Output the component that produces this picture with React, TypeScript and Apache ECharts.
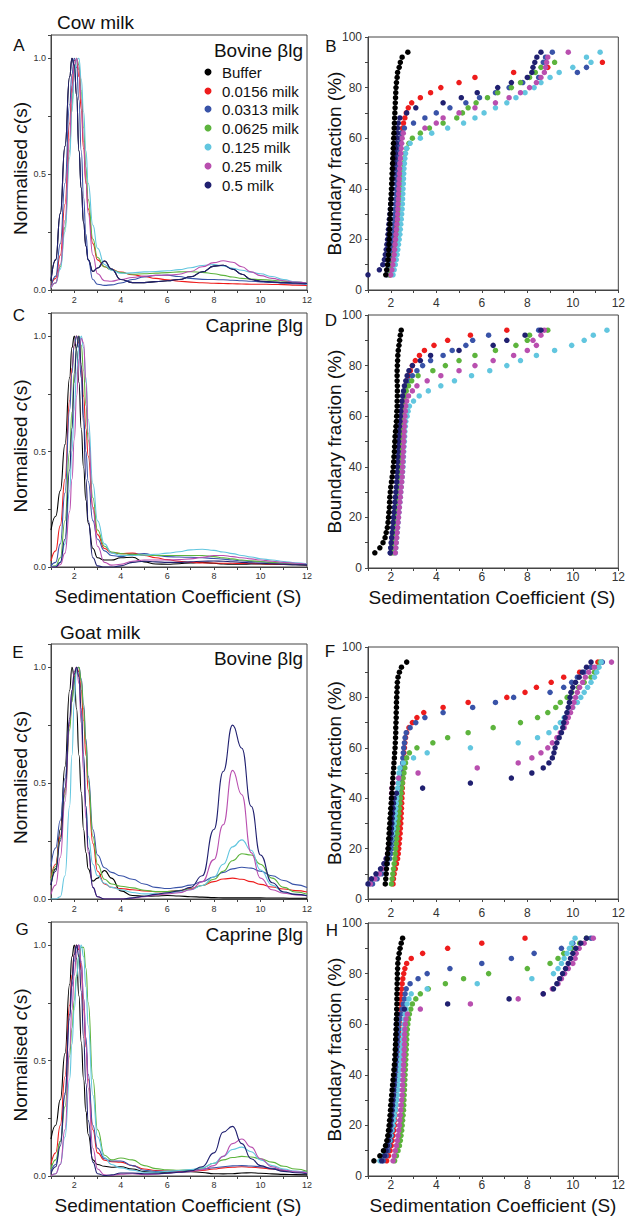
import React, { useEffect, useRef } from "react";
import * as echarts from "echarts";

// ---------- shared categories ----------
const NAMES = ["Buffer", "0.0156 milk", "0.0313 milk", "0.0625 milk", "0.125 milk", "0.25 milk", "0.5 milk"];
const COLORS = ["#000000", "#ee1c1c", "#3953a8", "#5db43d", "#62c6df", "#b94faf", "#202070"];
const X_TICKS = [2, 4, 6, 8, 10, 12];
const C_TICKS = [0, 0.5, 1.0];

// sedimentation coefficient grid of the c(s) curves
const S_GRID = [1, 1.2, 1.4, 1.6, 1.8, 1.9, 2.0, 2.1, 2.2, 2.3, 2.4, 2.5, 2.6, 2.8, 3.0, 3.3, 3.6, 4.0, 4.5, 5.0, 5.5, 6.0, 6.5, 7.0, 7.5, 8.0, 8.4, 8.8, 9.2, 9.6, 10.0, 10.5, 11.0, 11.5, 12.0];
// boundary fractions (%) of the van Holde-Weischet plots
const FRAC = [6, 8, 10, 12, 14, 16, 18, 20, 22, 24, 26, 28, 30, 32, 34, 36, 38, 40, 42, 44, 46, 48, 50, 52, 54, 56, 58, 60, 62, 64, 66, 68, 70, 72, 74, 76, 78, 80, 82, 84, 86, 88, 90, 92, 94];

// ---------- A: cow milk, bovine blg, normalised c(s) ----------
const A_BUFFER = [0.04,0.13,0.33,0.62,0.92,1.0,0.97,0.84,0.6,0.44,0.29,0.19,0.13,0.08,0.095,0.125,0.09,0.045,0.032,0.032,0.036,0.04,0.045,0.057,0.078,0.103,0.107,0.09,0.068,0.045,0.038,0.034,0.032,0.03,0.028];
const A_0156 = [0.02,0.05,0.15,0.37,0.72,0.88,0.99,0.99,0.92,0.78,0.61,0.46,0.35,0.2,0.13,0.1,0.088,0.077,0.066,0.058,0.05,0.044,0.038,0.034,0.031,0.029,0.028,0.027,0.026,0.025,0.025,0.024,0.023,0.021,0.02];
const A_0313 = [0.01,0.06,0.2,0.46,0.8,0.93,1.0,0.96,0.82,0.6,0.4,0.24,0.13,0.045,0.025,0.02,0.022,0.03,0.045,0.056,0.063,0.064,0.058,0.05,0.046,0.045,0.044,0.042,0.04,0.038,0.035,0.033,0.03,0.027,0.024];
const A_0625 = [0.01,0.03,0.1,0.27,0.6,0.8,0.94,1.0,0.97,0.86,0.7,0.53,0.39,0.22,0.14,0.1,0.088,0.075,0.068,0.07,0.073,0.075,0.078,0.079,0.076,0.07,0.063,0.056,0.05,0.047,0.045,0.042,0.038,0.034,0.03];
const A_125 = [0.01,0.03,0.09,0.25,0.57,0.77,0.92,0.99,1.0,0.91,0.77,0.6,0.46,0.28,0.18,0.11,0.085,0.072,0.074,0.078,0.08,0.083,0.088,0.096,0.106,0.11,0.104,0.094,0.085,0.077,0.07,0.058,0.045,0.035,0.025];
const A_25 = [0.01,0.03,0.11,0.3,0.65,0.85,0.97,1.0,0.95,0.82,0.64,0.47,0.33,0.15,0.07,0.04,0.038,0.045,0.054,0.06,0.063,0.064,0.068,0.08,0.1,0.118,0.126,0.12,0.1,0.078,0.062,0.05,0.04,0.034,0.03];
const A_5 = [0.04,0.13,0.33,0.62,0.92,1.0,0.97,0.84,0.6,0.44,0.29,0.19,0.13,0.08,0.095,0.125,0.09,0.045,0.032,0.032,0.036,0.04,0.045,0.057,0.078,0.103,0.107,0.09,0.068,0.045,0.038,0.034,0.032,0.03,0.028];

// ---------- C: cow milk, caprine blg ----------
const C_BUFFER = [0.16,0.22,0.33,0.53,0.82,0.95,1.0,0.94,0.8,0.6,0.43,0.29,0.19,0.08,0.04,0.03,0.03,0.04,0.042,0.022,0.013,0.012,0.014,0.018,0.02,0.016,0.013,0.012,0.012,0.013,0.013,0.012,0.011,0.01,0.008];
const C_0156 = [0.025,0.07,0.18,0.38,0.72,0.86,0.96,1.0,0.97,0.87,0.74,0.6,0.48,0.26,0.14,0.08,0.062,0.058,0.06,0.05,0.04,0.032,0.025,0.02,0.018,0.017,0.016,0.016,0.015,0.015,0.014,0.013,0.012,0.011,0.01];
const C_0313 = [0.005,0.02,0.1,0.32,0.68,0.84,0.96,1.0,0.95,0.82,0.65,0.5,0.37,0.2,0.12,0.07,0.05,0.045,0.055,0.058,0.05,0.045,0.043,0.042,0.04,0.037,0.034,0.03,0.027,0.024,0.022,0.019,0.016,0.013,0.01];
const C_0625 = [0,0.005,0.04,0.2,0.5,0.67,0.84,0.95,1.0,0.96,0.85,0.7,0.55,0.3,0.16,0.09,0.065,0.058,0.055,0.052,0.05,0.05,0.05,0.05,0.05,0.045,0.04,0.035,0.03,0.027,0.024,0.02,0.017,0.014,0.012];
const C_125 = [0,0.003,0.02,0.1,0.33,0.5,0.68,0.84,0.95,1.0,0.95,0.82,0.64,0.36,0.2,0.1,0.06,0.05,0.05,0.052,0.055,0.06,0.066,0.074,0.077,0.072,0.065,0.058,0.05,0.043,0.036,0.03,0.024,0.018,0.014];
const C_25 = [0,0,0.01,0.06,0.24,0.38,0.55,0.74,0.9,0.99,0.97,0.8,0.58,0.25,0.09,0.02,0.008,0.012,0.025,0.03,0.03,0.03,0.032,0.035,0.042,0.05,0.05,0.045,0.04,0.035,0.03,0.025,0.02,0.016,0.012];
const C_5 = [0,0,0.02,0.12,0.42,0.6,0.8,0.95,1.0,0.88,0.62,0.38,0.2,0.04,0.005,0,0,0.005,0.02,0.025,0.022,0.02,0.02,0.022,0.025,0.026,0.025,0.023,0.02,0.018,0.016,0.014,0.012,0.01,0.009];

// ---------- E: goat milk, bovine blg ----------
const E_BUFFER = [0.06,0.13,0.3,0.57,0.9,1.0,0.96,0.82,0.62,0.46,0.3,0.2,0.13,0.077,0.09,0.123,0.09,0.035,0.015,0.012,0.013,0.015,0.013,0.01,0.008,0.006,0.005,0.005,0.005,0.005,0.005,0.004,0.004,0.003,0.003];
const E_0156 = [0.09,0.15,0.27,0.47,0.75,0.87,0.96,1.0,0.98,0.9,0.77,0.62,0.47,0.24,0.12,0.065,0.05,0.045,0.04,0.035,0.032,0.032,0.036,0.045,0.058,0.075,0.086,0.09,0.085,0.075,0.063,0.052,0.043,0.036,0.03];
const E_0313 = [0.14,0.22,0.34,0.52,0.76,0.86,0.94,0.99,1.0,0.95,0.84,0.69,0.53,0.3,0.19,0.135,0.115,0.1,0.085,0.065,0.05,0.045,0.05,0.06,0.075,0.095,0.115,0.13,0.137,0.133,0.12,0.1,0.08,0.062,0.05];
const E_0625 = [0.08,0.14,0.26,0.45,0.73,0.85,0.94,0.99,1.0,0.94,0.82,0.67,0.51,0.27,0.15,0.085,0.065,0.055,0.048,0.038,0.032,0.032,0.036,0.043,0.058,0.085,0.12,0.165,0.195,0.19,0.15,0.09,0.05,0.03,0.02];
const E_125 = [0,0,0.01,0.1,0.4,0.62,0.85,1.0,0.95,0.8,0.58,0.4,0.27,0.15,0.1,0.068,0.05,0.04,0.028,0.022,0.022,0.025,0.03,0.04,0.058,0.095,0.15,0.225,0.255,0.21,0.125,0.06,0.03,0.02,0.015];
const E_25 = [0.02,0.06,0.18,0.42,0.77,0.9,0.98,1.0,0.93,0.76,0.55,0.35,0.2,0.05,0.01,0,0,0,0.003,0.01,0.018,0.022,0.027,0.04,0.075,0.17,0.32,0.555,0.45,0.2,0.09,0.04,0.025,0.018,0.014];
const E_5 = [0.06,0.12,0.25,0.48,0.78,0.9,0.97,1.0,0.96,0.82,0.62,0.4,0.22,0.05,0.01,0,0,0,0.005,0.012,0.02,0.027,0.035,0.05,0.1,0.3,0.55,0.75,0.65,0.4,0.19,0.07,0.03,0.02,0.014];

// ---------- G: goat milk, caprine blg ----------
const G_BUFFER = [0.16,0.22,0.33,0.53,0.83,0.95,1.0,0.94,0.78,0.58,0.42,0.28,0.18,0.07,0.05,0.042,0.038,0.04,0.03,0.019,0.015,0.014,0.017,0.019,0.015,0.01,0.009,0.01,0.013,0.014,0.012,0.009,0.007,0.006,0.005];
const G_0156 = [0.05,0.1,0.22,0.43,0.74,0.87,0.96,1.0,0.98,0.89,0.72,0.56,0.42,0.2,0.1,0.068,0.062,0.06,0.045,0.03,0.024,0.021,0.02,0.021,0.024,0.03,0.035,0.038,0.04,0.038,0.035,0.03,0.024,0.019,0.015];
const G_0313 = [0.02,0.05,0.15,0.36,0.68,0.82,0.93,0.99,1.0,0.92,0.77,0.6,0.44,0.22,0.12,0.075,0.065,0.065,0.045,0.025,0.02,0.02,0.022,0.025,0.03,0.036,0.04,0.044,0.045,0.043,0.04,0.033,0.026,0.02,0.015];
const G_0625 = [0.03,0.07,0.15,0.3,0.52,0.64,0.76,0.87,0.95,0.99,0.99,0.9,0.75,0.42,0.2,0.09,0.07,0.078,0.07,0.045,0.032,0.027,0.025,0.026,0.035,0.055,0.07,0.08,0.085,0.082,0.075,0.06,0.042,0.03,0.02];
const G_125 = [0,0.01,0.05,0.17,0.42,0.57,0.72,0.86,0.96,1.0,0.95,0.82,0.65,0.35,0.17,0.08,0.05,0.035,0.025,0.016,0.016,0.02,0.024,0.028,0.036,0.055,0.085,0.115,0.125,0.105,0.07,0.045,0.03,0.02,0.015];
const G_25 = [0,0.01,0.05,0.2,0.55,0.72,0.87,0.97,1.0,0.93,0.77,0.57,0.38,0.12,0.03,0.005,0.002,0.008,0.01,0.006,0.008,0.012,0.016,0.02,0.027,0.045,0.085,0.14,0.16,0.125,0.075,0.04,0.025,0.018,0.014];
const G_5 = [0.01,0.04,0.13,0.35,0.7,0.85,0.96,1.0,0.95,0.8,0.6,0.4,0.24,0.06,0.01,0.002,0.005,0.013,0.013,0.01,0.01,0.012,0.016,0.022,0.04,0.1,0.19,0.215,0.14,0.075,0.045,0.03,0.02,0.014,0.01];

// ---------- B: cow milk, bovine blg, sedimentation coefficient at each boundary fraction ----------
const B_BUFFER = [1.78,1.82,1.86,1.88,1.9,1.91,1.92,1.93,1.94,1.95,1.96,1.97,1.98,1.99,2.0,2.01,2.02,2.03,2.04,2.05,2.06,2.07,2.08,2.09,2.1,2.11,2.12,2.13,2.14,2.15,2.16,2.17,2.18,2.19,2.2,2.21,2.22,2.23,2.25,2.28,2.3,2.37,2.42,2.5,2.75];
const B_0156 = [1.98,2.02,2.05,2.08,2.1,2.12,2.14,2.16,2.18,2.2,2.22,2.24,2.26,2.28,2.3,2.31,2.32,2.33,2.34,2.35,2.36,2.37,2.38,2.39,2.4,2.41,2.42,2.44,2.47,2.51,2.56,2.62,2.68,2.77,2.92,3.3,3.75,4.2,5.0,5.7,7.4,8.9,11.3];
const B_0313 = [1.85,1.9,1.94,1.97,2.0,2.02,2.04,2.06,2.08,2.1,2.12,2.14,2.16,2.18,2.2,2.22,2.23,2.24,2.25,2.26,2.27,2.28,2.29,2.3,2.32,2.34,2.36,2.39,2.45,2.6,3.0,3.5,4.0,4.6,5.3,5.9,6.6,7.2,7.8,8.5,10.2,10.6,8.7,8.8,9.1];
const B_0625 = [1.95,2.0,2.05,2.1,2.14,2.18,2.21,2.24,2.27,2.3,2.32,2.34,2.36,2.38,2.4,2.42,2.44,2.46,2.48,2.5,2.52,2.54,2.56,2.59,2.63,2.7,2.8,2.95,3.3,3.7,4.3,4.9,5.15,5.4,5.75,6.25,6.7,7.3,7.7,8.1,8.35,8.6,9.2];
const B_125 = [2.1,2.15,2.2,2.24,2.28,2.31,2.34,2.37,2.4,2.42,2.44,2.46,2.48,2.5,2.51,2.52,2.53,2.54,2.55,2.56,2.57,2.58,2.6,2.62,2.65,2.7,2.85,3.3,3.8,4.5,5.2,5.7,6.1,6.6,7.1,7.5,7.9,8.3,8.6,9.0,9.4,10.0,10.8,10.6,11.2];
const B_25 = [2.0,2.05,2.09,2.12,2.15,2.17,2.19,2.21,2.23,2.25,2.27,2.29,2.3,2.31,2.32,2.33,2.34,2.35,2.36,2.37,2.38,2.39,2.4,2.42,2.44,2.46,2.48,2.5,2.55,3.5,4.0,4.3,5.0,5.7,6.6,7.2,7.7,8.1,8.4,8.6,8.75,8.8,8.85,8.9,9.8];
const B_5 = [1.0,1.5,1.65,1.72,1.76,1.8,1.83,1.86,1.88,1.9,1.92,1.94,1.96,1.98,2.0,2.02,2.04,2.06,2.08,2.1,2.12,2.14,2.16,2.18,2.2,2.22,2.24,2.26,2.28,2.3,2.33,2.4,2.7,3.1,4.3,5.1,5.8,6.7,7.3,8.0,8.2,8.25,8.33,8.42,8.6];

// ---------- D: cow milk, caprine blg ----------
const D_BUFFER = [1.3,1.52,1.66,1.75,1.8,1.85,1.88,1.9,1.92,1.94,1.95,1.96,1.98,2.0,2.03,2.06,2.09,2.11,2.13,2.14,2.16,2.17,2.18,2.19,2.21,2.23,2.25,2.26,2.27,2.28,2.28,2.29,2.29,2.29,2.28,2.28,2.28,2.29,2.3,2.31,2.33,2.36,2.39,2.42,2.46];
const D_0156 = [2.0,2.02,2.05,2.07,2.09,2.11,2.13,2.15,2.17,2.19,2.21,2.23,2.25,2.27,2.28,2.3,2.31,2.33,2.34,2.36,2.37,2.39,2.4,2.42,2.43,2.45,2.46,2.48,2.5,2.53,2.56,2.6,2.64,2.68,2.73,2.78,2.86,2.95,3.08,3.26,3.48,3.9,4.5,5.5,7.1];
const D_0313 = [1.98,2.0,2.03,2.06,2.09,2.11,2.13,2.15,2.17,2.19,2.21,2.23,2.25,2.27,2.28,2.29,2.3,2.31,2.32,2.33,2.34,2.35,2.36,2.37,2.38,2.4,2.42,2.45,2.47,2.5,2.53,2.57,2.62,2.7,2.8,2.95,3.15,3.4,3.75,4.3,4.7,5.3,5.6,6.3,8.5];
const D_0625 = [2.1,2.12,2.14,2.16,2.18,2.2,2.22,2.24,2.26,2.28,2.3,2.32,2.34,2.36,2.38,2.4,2.42,2.44,2.45,2.46,2.47,2.48,2.5,2.51,2.52,2.54,2.56,2.58,2.6,2.62,2.64,2.66,2.68,2.78,2.92,3.2,3.85,4.4,5.0,5.7,6.6,7.5,8.0,8.1,8.9];
const D_125 = [2.2,2.22,2.24,2.26,2.28,2.3,2.32,2.34,2.36,2.38,2.4,2.42,2.44,2.46,2.48,2.5,2.52,2.54,2.55,2.56,2.57,2.58,2.6,2.61,2.62,2.64,2.66,2.72,2.76,2.82,3.0,3.25,3.65,4.2,4.8,5.55,6.35,7.1,7.7,8.4,9.2,9.95,10.5,10.9,11.5];
const D_25 = [2.2,2.22,2.24,2.26,2.28,2.3,2.32,2.34,2.36,2.38,2.4,2.42,2.44,2.46,2.48,2.5,2.51,2.52,2.53,2.54,2.55,2.56,2.57,2.58,2.59,2.6,2.61,2.62,2.64,2.66,2.7,2.78,2.95,3.15,3.6,4.2,5.0,5.7,6.5,7.4,8.0,8.4,8.25,8.6,8.75];
const D_5 = [1.98,2.0,2.02,2.04,2.06,2.08,2.1,2.12,2.14,2.16,2.18,2.2,2.22,2.24,2.26,2.27,2.28,2.29,2.3,2.31,2.32,2.33,2.34,2.35,2.36,2.38,2.4,2.42,2.44,2.46,2.49,2.52,2.56,2.6,2.66,2.72,2.8,2.95,3.3,3.75,5.0,6.5,7.1,7.9,8.6];

// ---------- F: goat milk, bovine blg ----------
const F_BUFFER = [1.76,1.78,1.8,1.81,1.83,1.85,1.86,1.88,1.9,1.91,1.93,1.94,1.96,1.97,1.99,2.0,2.02,2.03,2.05,2.06,2.08,2.09,2.11,2.13,2.14,2.16,2.17,2.19,2.2,2.21,2.22,2.22,2.23,2.24,2.24,2.25,2.25,2.26,2.27,2.28,2.29,2.32,2.38,2.47,2.7];
const F_0156 = [2.1,2.12,2.15,2.2,2.25,2.3,2.33,2.35,2.37,2.39,2.41,2.42,2.44,2.45,2.46,2.47,2.48,2.49,2.5,2.51,2.52,2.53,2.54,2.55,2.56,2.57,2.58,2.6,2.62,2.65,2.7,2.8,2.95,3.15,3.45,4.3,5.4,7.1,7.9,8.4,9.05,9.6,10.3,10.8,11.1];
const F_0313 = [1.2,1.4,1.6,1.75,1.85,1.95,2.0,2.05,2.1,2.15,2.2,2.23,2.26,2.29,2.32,2.35,2.38,2.4,2.42,2.44,2.46,2.48,2.5,2.51,2.52,2.53,2.55,2.57,2.6,2.63,2.68,2.85,3.1,3.5,4.3,5.6,6.6,7.4,9.0,9.6,9.95,10.2,10.5,10.8,11.3];
const F_0625 = [2.03,2.06,2.09,2.12,2.15,2.18,2.2,2.22,2.24,2.26,2.28,2.3,2.32,2.34,2.36,2.38,2.4,2.42,2.45,2.48,2.51,2.54,2.58,2.62,2.65,2.7,2.82,3.15,3.85,4.5,5.4,6.5,7.7,8.45,8.9,9.25,9.45,9.75,9.95,10.25,10.5,10.8,10.95,11.1,11.2];
const F_125 = [1.05,1.3,1.5,1.65,1.75,1.85,1.9,1.95,2.0,2.04,2.08,2.12,2.15,2.18,2.2,2.22,2.24,2.26,2.28,2.3,2.32,2.34,2.36,2.4,2.55,3.0,3.6,5.5,7.6,8.45,8.95,9.25,9.45,9.62,9.85,10.0,10.2,10.35,10.5,10.65,10.8,10.95,11.05,11.15,11.25];
const F_25 = [1.1,1.3,1.5,1.62,1.72,1.8,1.86,1.9,1.93,1.96,1.98,2.0,2.01,2.02,2.03,2.03,2.04,2.04,2.04,2.05,2.1,2.35,3.2,5.8,7.6,8.2,8.6,8.9,9.1,9.3,9.45,9.62,9.72,9.8,9.9,9.98,10.05,10.12,10.2,10.3,10.43,10.55,10.7,10.95,11.7];
const F_5 = [1.0,1.15,1.35,1.55,1.7,1.8,1.88,1.93,1.97,2.0,2.02,2.03,2.05,2.06,2.08,2.1,2.12,2.15,2.25,3.4,5.5,7.3,8.2,8.7,8.95,9.1,9.17,9.22,9.3,9.4,9.5,9.56,9.6,9.66,9.74,9.8,9.85,9.88,9.92,10.0,10.12,10.28,10.42,10.6,10.8];

// ---------- H: goat milk, caprine blg ----------
const H_BUFFER = [1.26,1.52,1.68,1.77,1.83,1.87,1.9,1.93,1.95,1.97,1.99,2.0,2.02,2.04,2.06,2.08,2.1,2.12,2.14,2.16,2.18,2.19,2.2,2.21,2.22,2.23,2.24,2.25,2.25,2.26,2.26,2.27,2.27,2.27,2.28,2.28,2.29,2.29,2.3,2.31,2.33,2.37,2.41,2.46,2.52];
const H_0156 = [1.82,1.9,1.97,2.02,2.06,2.1,2.13,2.16,2.18,2.2,2.22,2.24,2.25,2.26,2.27,2.28,2.29,2.3,2.31,2.32,2.33,2.34,2.35,2.36,2.37,2.38,2.39,2.4,2.41,2.42,2.43,2.44,2.45,2.46,2.48,2.5,2.53,2.57,2.62,2.7,2.9,3.4,4.5,6.0,7.9];
const H_0313 = [1.67,1.8,1.88,1.94,1.99,2.03,2.06,2.09,2.12,2.14,2.16,2.18,2.2,2.22,2.23,2.24,2.25,2.26,2.27,2.28,2.29,2.3,2.31,2.32,2.33,2.34,2.35,2.35,2.4,2.45,2.5,2.55,2.6,2.63,2.68,2.85,3.2,3.6,4.6,6.0,7.3,8.3,9.5,10.0,10.8];
const H_0625 = [2.17,2.25,2.32,2.38,2.42,2.45,2.48,2.5,2.52,2.54,2.56,2.57,2.58,2.59,2.6,2.61,2.62,2.63,2.64,2.65,2.66,2.67,2.68,2.69,2.7,2.71,2.73,2.75,2.78,2.82,2.88,2.95,3.1,3.3,3.65,4.4,5.2,6.3,8.0,9.0,9.35,9.6,9.95,10.3,10.6];
const H_125 = [1.52,1.65,1.78,1.88,1.95,2.0,2.05,2.1,2.14,2.18,2.21,2.24,2.27,2.3,2.32,2.34,2.36,2.38,2.4,2.42,2.44,2.46,2.48,2.5,2.52,2.54,2.56,2.58,2.6,2.63,2.67,2.72,2.8,2.9,3.6,5.8,8.2,9.15,9.35,9.5,9.62,9.75,9.85,9.95,10.1];
const H_25 = [2.1,2.15,2.2,2.25,2.29,2.32,2.35,2.38,2.4,2.42,2.44,2.46,2.48,2.5,2.51,2.52,2.53,2.54,2.55,2.56,2.57,2.58,2.59,2.6,2.6,2.61,2.62,2.64,2.67,2.73,3.3,5.5,7.6,8.7,9.1,9.35,9.5,9.64,9.8,10.0,10.1,10.15,10.28,10.5,10.9];
const H_5 = [1.6,1.72,1.8,1.86,1.9,1.94,1.97,2.0,2.02,2.04,2.06,2.08,2.1,2.12,2.13,2.15,2.16,2.17,2.18,2.19,2.2,2.21,2.22,2.22,2.23,2.23,2.24,2.24,2.25,2.3,2.6,4.5,7.2,8.7,9.15,9.3,9.42,9.55,9.68,9.8,9.9,10.0,10.13,10.35,10.6];

const LINE_SETS = [
  [A_BUFFER, A_0156, A_0313, A_0625, A_125, A_25, A_5],
  [C_BUFFER, C_0156, C_0313, C_0625, C_125, C_25, C_5],
  [E_BUFFER, E_0156, E_0313, E_0625, E_125, E_25, E_5],
  [G_BUFFER, G_0156, G_0313, G_0625, G_125, G_25, G_5],
];
const DOT_SETS = [
  [B_BUFFER, B_0156, B_0313, B_0625, B_125, B_25, B_5],
  [D_BUFFER, D_0156, D_0313, D_0625, D_125, D_25, D_5],
  [F_BUFFER, F_0156, F_0313, F_0625, F_125, F_25, F_5],
  [H_BUFFER, H_0156, H_0313, H_0625, H_125, H_25, H_5],
];

const FONT = "'Liberation Sans', Arial, Helvetica, sans-serif";

const GRIDS = [
  { left: 51, top: 35, width: 256, height: 255 },
  { left: 368, top: 37, width: 253, height: 253 },
  { left: 51, top: 313, width: 256, height: 254 },
  { left: 368, top: 315, width: 253, height: 253 },
  { left: 51, top: 644, width: 256, height: 255 },
  { left: 368, top: 647, width: 253, height: 252 },
  { left: 51, top: 922, width: 256, height: 254 },
  { left: 368, top: 923, width: 253, height: 253 },
];
// distance of x tick labels from their axis, per panel
const X_LABEL_MARGIN = [5, 7, 4, 3, 5, 8, 4, 3];

function buildOption() {
  const grid = GRIDS.map((g) => ({ ...g, show: true, borderColor: "#444", borderWidth: 1, backgroundColor: "#fff" }));
  const xAxis: any[] = [];
  const yAxis: any[] = [];
  GRIDS.forEach((g, i) => {
    const left = i % 2 === 0;
    const fs = left ? 9 : 12;
    xAxis.push({
      type: "value", gridIndex: i, min: 1, max: 12, interval: 1,
      axisLine: { lineStyle: { color: "#444", width: 1 } },
      axisTick: { length: 3, lineStyle: { color: "#444" } },
      splitLine: { show: false },
      axisLabel: {
        fontSize: fs, color: "#333", fontFamily: FONT, margin: X_LABEL_MARGIN[i],
        formatter: (v: number) => (X_TICKS.indexOf(v) >= 0 ? String(v) : ""),
      },
    });
    yAxis.push(left ? {
      type: "value", gridIndex: i, min: 0, max: 1.1, interval: 0.5,
      axisLine: { lineStyle: { color: "#444", width: 1 } },
      axisTick: { length: 3, lineStyle: { color: "#444" } },
      minorTick: { show: true, splitNumber: 2, length: 3, lineStyle: { color: "#444" } },
      splitLine: { show: false },
      axisLabel: {
        fontSize: 9, color: "#333", fontFamily: FONT, margin: 5,
        formatter: (v: number) => {
          const r = Math.round(v * 100) / 100;
          return C_TICKS.indexOf(r) >= 0 ? r.toFixed(1) : "";
        },
      },
    } : {
      type: "value", gridIndex: i, min: 0, max: 100, interval: 20,
      axisLine: { lineStyle: { color: "#444", width: 1 } },
      axisTick: { length: 3, lineStyle: { color: "#444" } },
      minorTick: { show: true, splitNumber: 2, length: 3, lineStyle: { color: "#444" } },
      splitLine: { show: false },
      axisLabel: { fontSize: 12, color: "#333", fontFamily: FONT, margin: 6 },
    });
  });

  const series: any[] = [];
  LINE_SETS.forEach((set, p) => {
    set.forEach((ys, k) => {
      series.push({
        type: "line", name: NAMES[k], xAxisIndex: p * 2, yAxisIndex: p * 2,
        data: S_GRID.map((s, i) => [s, ys[i]]),
        showSymbol: false, smooth: 0.5, smoothMonotone: "x",
        lineStyle: { color: COLORS[k], width: 1.1 }, itemStyle: { color: COLORS[k] },
        silent: true,
      });
    });
  });
  const dotOrder = [1, 2, 3, 4, 5, 6, 0];
  DOT_SETS.forEach((set, p) => {
    dotOrder.forEach((k) => {
      series.push({
        type: "scatter", name: NAMES[k], xAxisIndex: p * 2 + 1, yAxisIndex: p * 2 + 1,
        data: set[k].map((x, i) => [x, FRAC[i]]),
        symbolSize: 5.5, itemStyle: { color: COLORS[k], opacity: 1 }, silent: true,
      });
    });
  });

  const txt = (text: string, x: number, y: number, size: number, align = "left", extra: any = {}) => ({
    type: "text", x, y, silent: true, ...extra,
    style: { text, fontSize: size, fontFamily: FONT, fill: "#111", align, verticalAlign: "middle", textAlign: align, textVerticalAlign: "middle", ...(extra.style || {}) },
  });
  const graphics: any[] = [];
  // titles
  graphics.push(txt("Cow milk", 57, 22, 19));
  graphics.push(txt("Goat milk", 60, 632, 19));
  // panel letters
  const letters = [["A", 19, 45], ["B", 331, 46], ["C", 19, 315], ["D", 331, 320], ["E", 18, 652], ["F", 330, 651], ["G", 22, 929], ["H", 332, 930]];
  letters.forEach(([t, x, y]) => graphics.push(txt(t as string, x as number, y as number, 17, "center")));
  // protein labels
  graphics.push(txt("Bovine \u03b2lg", 303, 50, 19, "right"));
  graphics.push(txt("Caprine \u03b2lg", 303, 325, 19, "right"));
  graphics.push(txt("Bovine \u03b2lg", 303, 658, 19, "right"));
  graphics.push(txt("Caprine \u03b2lg", 303, 934, 19, "right"));
  // y axis names
  [0, 2, 4, 6].forEach((i) => {
    const g = GRIDS[i];
    graphics.push({
      type: "text", x: 20, y: g.top + g.height / 2 + 6, rotation: Math.PI / 2, silent: true,
      style: {
        text: "{n|Normalised }{i|c}{n|(s)}", fontSize: 19, fontFamily: FONT, fill: "#111",
        align: "center", verticalAlign: "middle", textAlign: "center", textVerticalAlign: "middle",
        rich: { n: { fontSize: 19, fontFamily: FONT, fill: "#111" }, i: { fontSize: 19, fontFamily: FONT, fontStyle: "italic", fill: "#111" } },
      },
    });
  });
  [1, 3, 5, 7].forEach((i) => {
    const g = GRIDS[i];
    graphics.push(txt("Boundary fraction (%)", 334, g.top + g.height / 2, 19, "center", { rotation: Math.PI / 2 }));
  });
  // x axis names
  graphics.push(txt("Sedimentation Coefficient (S)", 178, 596, 19, "center"));
  graphics.push(txt("Sedimentation Coefficient (S)", 492, 597, 19, "center"));
  graphics.push(txt("Sedimentation Coefficient (S)", 178, 1205, 19, "center"));
  graphics.push(txt("Sedimentation Coefficient (S)", 493, 1205, 19, "center"));
  // legend in panel A
  const rows = [72, 91, 109, 128, 147, 166, 185];
  NAMES.forEach((n, k) => {
    graphics.push({ type: "circle", shape: { cx: 208, cy: rows[k], r: 3.5 }, style: { fill: COLORS[k] }, silent: true });
    graphics.push(txt(n, 222, rows[k], 15));
  });

  return { animation: false, backgroundColor: "#fff", grid, xAxis, yAxis, series, graphic: { elements: graphics } };
}

export default function App() {
  const ref = useRef<HTMLDivElement>(null);
  useEffect(() => {
    if (!ref.current) return;
    const chart = echarts.init(ref.current, null, { renderer: "svg" });
    chart.setOption(buildOption() as any);
    return () => chart.dispose();
  }, []);
  return <div ref={ref} style={{ position: "absolute", left: 0, top: 0, width: 628, height: 1216, background: "#fff" }} />;
}
